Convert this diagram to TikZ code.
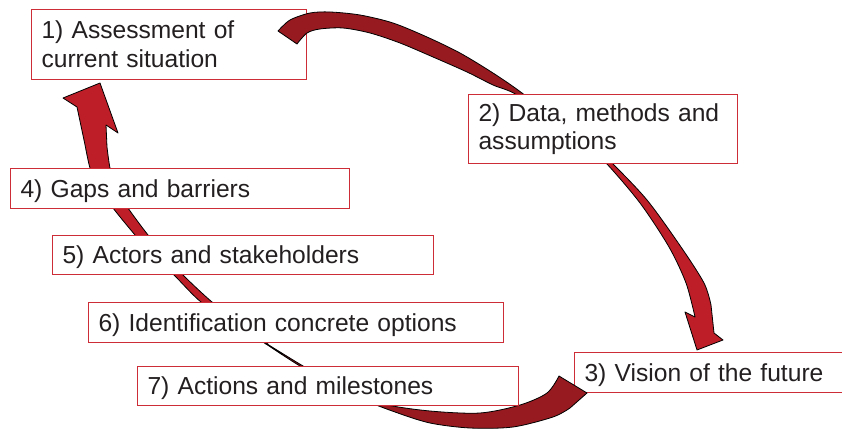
\documentclass[tikz,border=0pt]{standalone}
\usepackage{fontspec}
\setmainfont{Liberation Sans}
\definecolor{boxred}{RGB}{204,45,55}
\definecolor{inkgray}{RGB}{35,31,32}
\definecolor{ribbonback}{RGB}{150,26,32}
\definecolor{ribbonfront}{RGB}{190,30,40}
\begin{document}
\begin{tikzpicture}[x=1pt,y=-1pt,
  box/.style={draw=boxred, fill=white, line width=1.1pt, anchor=north west,
    inner xsep=10pt, inner ysep=0pt, align=left, text=inkgray,
    font=\fontsize{24.6}{28.8}\selectfont},
  oneline/.style={text height=17.6pt, text depth=0pt},
  back/.style={fill=ribbonback, draw=black, line width=0.8pt, line join=round},
  front/.style={fill=ribbonfront, draw=black, line width=0.8pt, line join=round}]
\useasboundingbox (0,0) rectangle (842,428);

% boxes that lie beneath the ribbon ends
\node[box, text width=255pt, minimum height=70pt] (b1) at (31,9)
  {1) Assessment of\\current situation};
\node[box, oneline, text width=247.5pt, minimum height=40pt] (b3) at (574,352)
  {3) Vision of the future};

% upper ribbon: back face from step 1 towards step 2
\filldraw[back] plot[smooth] coordinates {(278,31) (290,20) (310,13) (330,12) (360,15) (393,23) (427,37) (460,53) (493,73) (522,93) (562,125)}
  -- plot[smooth] coordinates {(558,126) (517,95) (493,85) (467,72) (433,57) (400,43) (370,33) (343,28) (320,29) (307,33) (297,44)} -- cycle;
% upper ribbon: front face with head pointing at step 3
\filldraw[front] plot[smooth] coordinates {(560,125) (585,145) (606,163) (640,203) (669,247) (686,283) (695,317)}
  -- (685,312) -- (697,350) -- (723,340) -- (714,333)
  -- plot[smooth] coordinates {(711,305) (704,283) (681,247) (647,200) (612,163) (590,143) (562,124)} -- cycle;

% lower ribbon: back face leaving step 3
\filldraw[back] plot[smooth] coordinates {(264,342) (303,366) (345,390) (383,404) (430,411) (480,413) (520,405) (547,393) (559,376)}
  -- (587,393)
  -- plot[smooth] coordinates {(570,408) (553,417) (513,427) (470,428) (430,423) (395,412) (360,398) (305,369) (266,344)} -- cycle;
% lower ribbon: front face with head pointing back to step 1
\filldraw[front] plot[smooth] coordinates {(266,344) (232,321) (201,302) (174,275) (150,252) (135,235) (113,208) (98,186) (90,168) (84,140) (77,107)}
  -- (63,98) -- (100,83) -- (118,133) -- (106,125)
  -- plot[smooth] coordinates {(107,147) (110,168) (116,188) (128,208) (148,235) (165,255) (183,275) (212,302) (240,323) (268,343)} -- cycle;

% boxes lying over the ribbons
\node[box, text width=249pt, minimum height=69pt] (b2) at (468,94)
  {2) Data, methods and\\assumptions};
\node[box, oneline, text width=319pt, minimum height=40pt] (b4) at (10,168)
  {4) Gaps and barriers};
\node[box, oneline, text width=361pt, minimum height=39pt] (b5) at (52,235)
  {5) Actors and stakeholders};
\node[box, oneline, text width=395pt, minimum height=40pt] (b6) at (88,302)
  {6) Identification concrete options};
\node[box, oneline, text width=361pt, minimum height=39pt] (b7) at (137,366)
  {7) Actions and milestones};
\end{tikzpicture}
\end{document}
